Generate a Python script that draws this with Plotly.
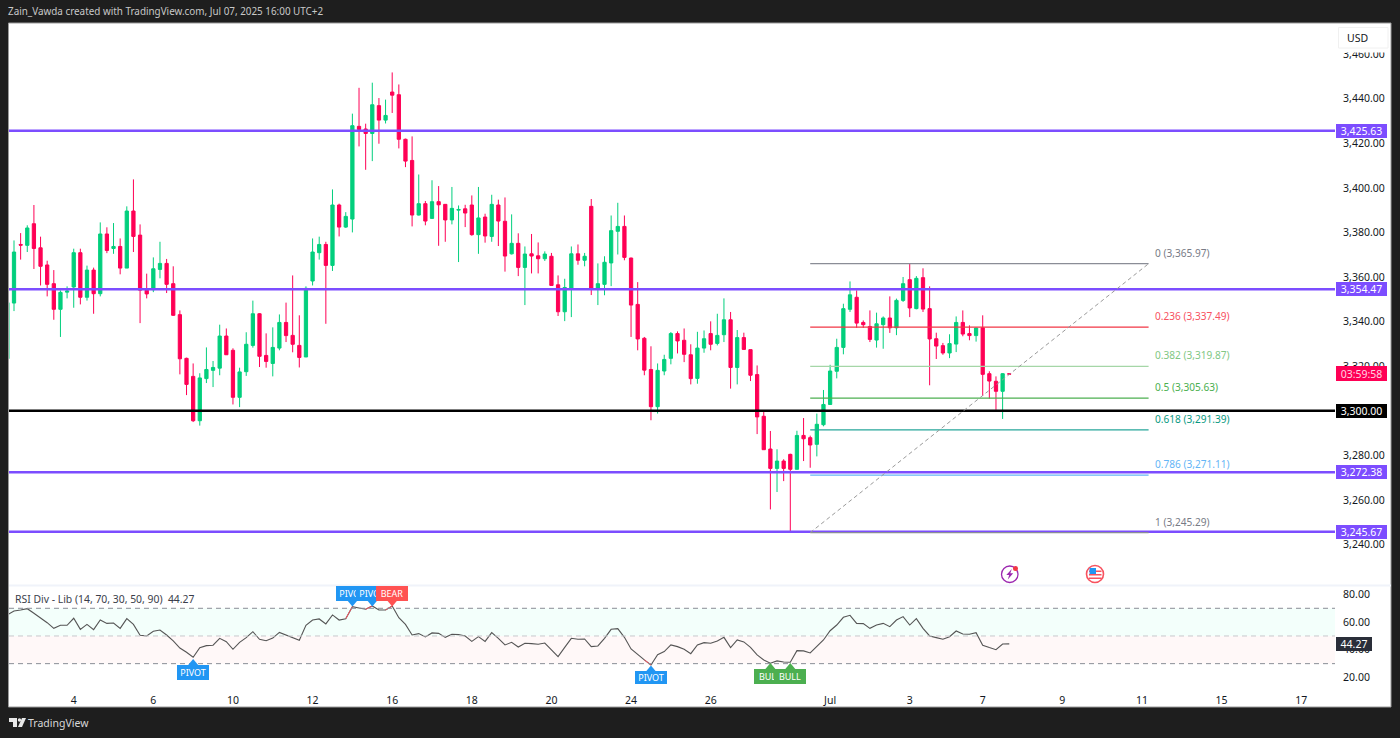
import plotly.graph_objects as go

opens = [3323.3,3348.3,3374.6,3374.2,3383.9,3373.1,3365.4,3357.0,3345.5,3353.2,3355.5,3370.9,3350.9,3363.1,3352.5,3379.3,3372.8,3373.7,3364.0,3389.6,
3378.8,3354.1,3354.3,3363.4,3366.1,3357.0,3343.1,3323.5,3315.4,3295.5,3314.4,3318.1,3319.1,3333.5,3327.1,3306.0,3317.5,3329.3,3343.5,3324.8,
3321.2,3328.1,3339.6,3333.8,3329.3,3324.1,3358.2,3370.9,3374.6,3365.2,3392.3,3382.4,3386.0,3427.6,3426.4,3424.4,3436.9,3430.4,3443.0,3441.8,
3421.8,3412.3,3387.8,3392.9,3386.3,3393.8,3392.6,3385.6,3390.0,3390.6,3392.3,3379.0,3386.9,3378.2,3392.3,3385.0,3370.4,3375.1,3364.3,3370.4,
3369.5,3368.2,3369.3,3356.5,3344.4,3355.0,3370.4,3367.5,3391.7,3355.0,3356.7,3366.3,3380.5,3382.7,3368.5,3347.7,3332.5,3318.5,3301.8,3317.8,
3323.5,3334.6,3331.6,3325.1,3314.5,3328.1,3334.6,3330.2,3334.1,3340.8,3319.4,3332.8,3327.4,3316.2,3297.5,3282.8,3274.1,3277.4,3280.4,3273.7,
3288.9,3287.9,3284.9,3293.7,3302.8,3317.7,3328.4,3345.5,3350.9,3339.6,3337.8,3331.7,3338.6,3341.6,3337.2,3349.5,3358.8,3345.8,3359.7,3345.8,
3332.3,3329.2,3325.9,3329.9,3339.6,3334.6,3333.7,3337.2,3316.6,3313.2,3308.7,3316.6]
highs = [3350.3,3376.4,3379.7,3383.2,3392.3,3378.1,3367.3,3363.1,3354.0,3355.8,3372.7,3372.7,3365.1,3364.2,3384.5,3382.3,3384.2,3377.3,3391.7,3403.8,
3383.6,3361.5,3368.8,3375.8,3368.1,3364.8,3345.0,3323.8,3321.2,3316.8,3328.4,3322.3,3338.6,3336.9,3328.0,3319.3,3335.2,3349.4,3343.8,3334.7,
3337.4,3343.2,3348.5,3360.7,3342.8,3355.8,3377.3,3378.1,3375.8,3399.3,3392.9,3389.1,3433.3,3444.9,3428.8,3447.2,3440.3,3439.6,3451.8,3446.4,
3422.1,3423.1,3406.0,3394.1,3403.4,3400.8,3392.7,3400.4,3392.1,3392.4,3396.6,3400.4,3388.4,3396.9,3394.7,3395.7,3388.1,3379.6,3373.7,3379.3,
3375.5,3371.5,3370.8,3360.7,3359.2,3373.7,3374.6,3370.8,3395.0,3366.1,3369.3,3387.6,3393.3,3387.6,3368.7,3357.7,3333.1,3328.9,3321.2,3325.1,
3335.3,3335.6,3336.9,3329.8,3335.4,3336.0,3340.1,3343.5,3350.4,3344.3,3336.2,3335.0,3327.4,3320.3,3299.4,3290.9,3282.7,3278.2,3280.7,3291.0,
3296.7,3288.8,3298.7,3309.3,3320.6,3332.3,3348.0,3358.0,3354.0,3340.5,3345.0,3344.0,3342.3,3351.3,3350.3,3360.0,3366.0,3360.4,3363.9,3355.8,
3335.0,3330.4,3334.3,3342.3,3345.0,3338.3,3337.2,3342.8,3317.7,3315.4,3316.9,3316.6]
lows = [3321.8,3344.7,3367.8,3371.2,3363.6,3356.2,3351.3,3340.8,3333.1,3350.4,3346.2,3347.7,3349.4,3343.5,3351.3,3370.7,3370.4,3361.2,3364.0,3371.2,
3339.3,3350.4,3353.2,3359.4,3352.8,3342.5,3316.3,3307.0,3294.9,3293.3,3312.4,3310.6,3315.9,3325.0,3302.8,3301.6,3315.6,3328.3,3319.6,3319.3,
3315.4,3327.1,3330.8,3326.2,3319.4,3324.1,3356.2,3367.8,3339.0,3362.7,3378.2,3382.0,3380.0,3418.6,3408.1,3412.0,3419.8,3428.9,3433.6,3417.7,
3409.3,3382.7,3387.6,3383.2,3386.2,3374.0,3375.8,3383.6,3366.7,3382.4,3378.5,3370.4,3375.4,3375.8,3373.9,3362.4,3370.1,3360.4,3347.4,3361.6,
3361.6,3367.2,3356.2,3342.5,3340.2,3342.0,3365.5,3364.8,3351.9,3347.4,3351.8,3355.9,3370.1,3367.5,3333.1,3327.1,3315.9,3295.7,3298.7,3315.9,
3320.8,3325.7,3321.8,3311.8,3312.1,3326.0,3327.1,3329.3,3330.8,3309.9,3311.8,3327.4,3313.3,3289.5,3282.5,3255.7,3263.5,3268.4,3245.3,3273.7,
3277.4,3274.4,3279.5,3293.0,3302.7,3314.5,3325.3,3344.3,3337.2,3337.2,3330.8,3328.3,3327.8,3334.9,3333.9,3348.8,3342.0,3345.5,3344.3,3311.4,
3323.2,3325.1,3323.6,3326.3,3333.4,3331.6,3331.0,3306.6,3305.4,3300.4,3296.3,3316.3]
closes = [3348.5,3371.2,3374.3,3382.0,3372.8,3364.8,3356.7,3345.5,3353.1,3353.7,3370.9,3350.9,3363.1,3352.5,3379.3,3371.9,3373.7,3364.0,3389.6,3378.2,
3354.1,3352.4,3363.7,3366.1,3356.7,3342.8,3323.3,3311.8,3295.5,3314.7,3318.5,3319.4,3333.5,3325.1,3306.0,3317.4,3329.8,3343.5,3324.4,3322.1,
3328.4,3339.6,3333.7,3329.8,3323.9,3354.9,3371.2,3374.6,3365.2,3392.3,3382.4,3387.2,3427.9,3426.2,3424.4,3437.3,3430.4,3432.5,3441.6,3421.8,
3412.0,3387.8,3392.9,3385.1,3393.8,3392.4,3385.6,3390.8,3390.3,3388.7,3379.0,3386.5,3378.4,3392.6,3385.1,3369.4,3375.1,3364.3,3370.3,3369.4,
3368.2,3370.3,3356.2,3344.4,3355.3,3370.4,3367.5,3369.3,3355.0,3357.0,3366.6,3380.8,3382.7,3368.8,3347.4,3332.2,3318.2,3301.8,3318.1,3323.0,
3334.6,3331.3,3325.3,3314.4,3328.1,3332.3,3329.8,3333.8,3340.8,3319.4,3332.8,3327.5,3315.9,3297.2,3282.5,3274.1,3277.4,3274.1,3273.7,3288.9,
3287.4,3284.6,3293.9,3302.8,3317.8,3328.4,3345.8,3352.0,3339.3,3338.6,3332.0,3339.0,3341.6,3337.2,3349.5,3357.0,3346.1,3359.4,3345.6,3332.2,
3329.0,3325.9,3330.1,3339.6,3334.4,3333.7,3337.1,3316.3,3313.3,3308.7,3316.6,3316.4]
rsi = [65.2,68.0,68.8,69.7,66.4,63.2,59.6,55.5,57.7,57.7,62.8,54.8,58.4,54.6,61.5,59.1,59.4,55.5,62.5,58.4,
50.5,50.0,53.4,54.3,50.7,46.4,41.3,38.2,34.6,41.6,43.0,43.3,48.3,45.9,40.4,45.4,48.8,53.1,47.6,46.6,
48.5,52.6,50.7,48.8,46.9,57.7,61.5,62.3,58.7,65.2,61.5,62.5,71.2,70.2,69.3,71.7,68.8,68.8,71.7,63.2,
58.4,50.7,51.7,49.3,52.2,51.9,49.0,51.2,51.0,50.0,46.1,49.5,46.1,52.4,48.3,
43.5,45.4,42.0,44.7,44.5,44.0,44.9,39.9,35.1,41.8,48.3,47.6,47.8,42.3,42.8,48.3,54.8,55.3,49.0,40.6,
36.3,32.7,29.0,36.5,38.7,43.5,42.3,40.4,37.2,43.5,45.2,44.7,46.4,49.0,41.6,47.1,45.7,41.8,36.3,32.7,
30.3,32.0,31.2,31.0,39.4,39.2,37.7,42.3,47.1,53.8,57.9,63.5,64.9,59.1,58.9,55.5,57.9,59.1,56.7,61.5,
64.0,57.9,62.5,55.5,50.0,48.8,47.6,49.5,53.6,51.4,51.2,52.4,43.3,41.6,40.1,44.2,44.27]

date_ticks = [10,22,34,46,58,70,82,94,106,124,136,147,159,171,183,195]
date_labels = ["4","6","10","12","16","18","20","24","26","Jul","3","7","9","11","15","17"]
price_ticks = [3240,3260,3280,3300,3320,3340,3360,3380,3400,3420,3440,3460]
rsi_ticks = [20,40,60,80]

level_values = [3425.63,3354.47,3272.38,3245.67]
level_labels = ["3,425.63","3,354.47","3,272.38","3,245.67"]
key_value = 3300.00
key_label = "3,300.00"

fib_ratios = ["0","0.236","0.382","0.5","0.618","0.786","1"]
fib_values = [3365.97,3337.49,3319.87,3305.63,3291.39,3271.11,3245.29]
fib_colors = ["#787b86","#f7525f","#81c784","#4caf50","#089981","#64b5f6","#787b86"]
fib_line_colors = ["#8a8d96","#f23645","#a5d6a7","#4caf50","#26a69a","#64b5f6","#8a8d96"]
fib_start, fib_end = 121, 172

rsi_marks = [(52,"PIVOT","#2196f3","down"),(55,"PIVOT","#2196f3","down"),(58,"BEAR","#ff5252","down"),
             (28,"PIVOT","#2196f3","up"),(97,"PIVOT","#2196f3","up"),(115,"BULL","#4caf50","up"),(118,"BULL","#4caf50","up")]
rsi_red_spans = [(51,52),(54,55),(57,58),(96,97)]

W, H = 1400, 738
XL, XR = 9, 1335
MT, MB = 23, 585
RT, RB = 586, 684
X0 = 7.37; DX = 6.635
def px(x): return x / W
def py(y): return 1 - y / H
purple = "#7c4dff"; green = "#02cf7d"; red = "#ff0055"
FONT = "Noto Sans"

x_idx = list(range(len(opens)))
fig = go.Figure()
fig.add_trace(go.Candlestick(x=x_idx, open=opens, high=highs, low=lows, close=closes,
    increasing=dict(line=dict(color=green, width=1), fillcolor=green),
    decreasing=dict(line=dict(color=red, width=1), fillcolor=red),
    whiskerwidth=0, xaxis="x", yaxis="y", showlegend=False, hoverinfo="skip"))
fig.add_trace(go.Scatter(x=list(range(len(rsi))), y=rsi, mode="lines",
    line=dict(color="#555555", width=1.1), xaxis="x2", yaxis="y2", showlegend=False, hoverinfo="skip"))
for a, b in rsi_red_spans:
    fig.add_trace(go.Scatter(x=[a, b], y=[rsi[a], rsi[b]], mode="lines",
        line=dict(color="#f7525f", width=1), xaxis="x2", yaxis="y2", showlegend=False, hoverinfo="skip"))

shapes = []
ann = []
def paper_rect(x0, y0, x1, y1, fill, line=None, layer="below"):
    shapes.append(dict(type="rect", xref="paper", yref="paper", x0=px(x0), x1=px(x1), y0=py(y0), y1=py(y1),
        fillcolor=fill, line=dict(color=line or fill, width=1 if line else 0), layer=layer))

paper_rect(8.5, 23, 1391, 707, "#ffffff", "#9a9a9a")
paper_rect(XL, 584.5, 1391, 586.5, "#f0f3fa")

# RSI zones
shapes.append(dict(type="rect", xref="paper", yref="y2", x0=px(XL), x1=px(XR), y0=50, y1=70, fillcolor="#f3fffb", line=dict(width=0), layer="below"))
shapes.append(dict(type="rect", xref="paper", yref="y2", x0=px(XL), x1=px(XR), y0=30, y1=50, fillcolor="#fff8f8", line=dict(width=0), layer="below"))
for v, c in [(70, "#8a8d96"), (50, "#c8c8cc"), (30, "#8a8d96")]:
    shapes.append(dict(type="line", xref="paper", yref="y2", x0=px(XL), x1=px(XR), y0=v, y1=v,
        line=dict(color=c, width=1, dash="5px,4px")))

# horizontal levels
for v in level_values:
    shapes.append(dict(type="line", xref="paper", yref="y", x0=px(XL), x1=px(XR), y0=v, y1=v, line=dict(color=purple, width=2.5)))
shapes.append(dict(type="line", xref="paper", yref="y", x0=px(XL), x1=px(XR), y0=key_value, y1=key_value, line=dict(color="#000000", width=2.5)))

# fib
for r, v, c, lc in zip(fib_ratios, fib_values, fib_colors, fib_line_colors):
    shapes.append(dict(type="line", xref="x", yref="y", x0=fib_start, x1=fib_end, y0=v, y1=v, line=dict(color=lc, width=1.2)))
    ann.append(dict(xref="paper", yref="y", x=px(1153), y=v, xanchor="left", yanchor="middle", yshift=11,
        text=f"{r} ({v:,.2f})", showarrow=False, font=dict(family=FONT, size=10.1, color=c)))
shapes.append(dict(type="line", xref="x", yref="y", x0=fib_start, x1=fib_end, y0=fib_values[-1], y1=fib_values[0],
    line=dict(color="#9a9a9a", width=1, dash="4px,3px")))

# price tags
def tag(y, yref, text, bg, w=51, cx=1361.5, color="#ffffff"):
    ann.append(dict(xref="paper", yref=yref, x=px(cx), y=y, xanchor="center", yanchor="middle", text=text,
        showarrow=False, bgcolor=bg, width=w, height=14, borderpad=0, borderwidth=0,
        font=dict(family=FONT, size=10.5, color=color)))
for v, t in zip(level_values, level_labels):
    tag(v, "y", t, purple)
tag(key_value, "y", key_label, "#000000")
ann.append(dict(xref="paper", yref="paper", x=px(1361.5), y=py(373.5), xanchor="center", yanchor="middle", text="03:59:58",
    showarrow=False, bgcolor=red, width=51, height=15, borderpad=0, borderwidth=0, font=dict(family=FONT, size=10.5, color="#ffd6e4")))
tag(rsi[-1], "y2", f"{rsi[-1]:.2f}", "#2a2e39", w=36, cx=1354)

# USD box, plus the white margin below it that hides the top of the highest price label
paper_rect(1340, 48, 1388, 52.5, "#ffffff", layer="above")
paper_rect(1338.5, 27.5, 1388, 48, "#ffffff", "#f0f0f0", layer="above")
ann.append(dict(xref="paper", yref="paper", x=px(1345), y=py(38), xanchor="left", yanchor="middle", text="USD",
    showarrow=False, font=dict(family=FONT, size=10.5, color="#131722")))

# RSI labels
for i, t, c, d in rsi_marks:
    cx = X0 + DX * i
    if d == "down":
        shapes.append(dict(type="path", xref="paper", yref="paper",
            path=f"M {px(cx-5)} {py(600.5)} L {px(cx+5)} {py(600.5)} L {px(cx)} {py(606.5)} Z", fillcolor=c, line=dict(width=0)))
        ann.append(dict(xref="paper", yref="paper", x=px(cx), y=py(593.5), xanchor="center", yanchor="middle", text=t,
            showarrow=False, bgcolor=c, width=32, height=15, borderpad=0, borderwidth=0, font=dict(family=FONT, size=9, color="#ffffff")))
    else:
        ttop = 665 if i == 28 else (671.5 if i == 97 else 669)
        tip = ttop - 6
        shapes.append(dict(type="path", xref="paper", yref="paper",
            path=f"M {px(cx-5)} {py(ttop)} L {px(cx+5)} {py(ttop)} L {px(cx)} {py(tip)} Z", fillcolor=c, line=dict(width=0)))
        bh = 15 if i == 28 else 684 - ttop
        ann.append(dict(xref="paper", yref="paper", x=px(cx), y=py(ttop + bh / 2), xanchor="center", yanchor="middle", text=t,
            showarrow=False, bgcolor=c, width=32, height=bh, borderpad=0, borderwidth=0, font=dict(family=FONT, size=9, color="#ffffff")))

# indicator legend, header and footer text
ann.append(dict(xref="paper", yref="paper", x=px(13), y=py(599), xanchor="left", yanchor="middle", showarrow=False,
    text="RSI Div - Lib (14, 70, 30, 50, 90)  44.27", font=dict(family=FONT, size=10.4, color="#3a3e4a")))
ann.append(dict(xref="paper", yref="paper", x=px(6), y=py(11), xanchor="left", yanchor="middle", showarrow=False,
    text="Zain_Vawda created with TradingView.com, Jul 07, 2025 16:00 UTC+2", font=dict(family=FONT, size=9.9, color="#c8c8c8")))
ann.append(dict(xref="paper", yref="paper", x=px(26), y=py(723), xanchor="left", yanchor="middle", showarrow=False,
    text="TradingView", font=dict(family=FONT, size=10.5, color="#d8d8d8")))

# TradingView mark
def p(points):
    return "M " + " L ".join(f"{px(a)} {py(b)}" for a, b in points) + " Z"
for pts in [[(9,718),(17,718),(17,727),(13,727),(13,722),(9,722)], [(22,718),(26,718),(22,727),(18,727)]]:
    shapes.append(dict(type="path", xref="paper", yref="paper", path=p(pts), fillcolor="#e8e8e8", line=dict(width=0)))
shapes.append(dict(type="circle", xref="paper", yref="paper", x0=px(17.8), x1=px(21.2), y0=py(721.7), y1=py(718.3), fillcolor="#e8e8e8", line=dict(width=0)))

# event icons
shapes.append(dict(type="circle", xref="paper", yref="paper", x0=px(1001.5), x1=px(1018), y0=py(582.5), y1=py(566),
    fillcolor="#ffffff", line=dict(color="#9c27b0", width=1.3)))
shapes.append(dict(type="path", xref="paper", yref="paper", fillcolor="#9c27b0", line=dict(width=0),
    path=p([(1011.8,569),(1006.3,575),(1009.2,575),(1007.8,579.5),(1013.2,573.3),(1010.3,573.3)])))
shapes.append(dict(type="circle", xref="paper", yref="paper", x0=px(1013), x1=px(1018), y0=py(571), y1=py(566), fillcolor="#f23645", line=dict(width=0)))
shapes.append(dict(type="circle", xref="paper", yref="paper", x0=px(1086.5), x1=px(1103.5), y0=py(582.5), y1=py(565.5),
    fillcolor="#ffffff", line=dict(color="#f7525f", width=1.6)))
for a, b in [(570.5, 572), (574, 575.5), (577.5, 579)]:
    paper_rect(1089, b, 1101.5, a, "#f7525f", layer="above")
paper_rect(1089.5, 568, 1096, 574, "#2196f3", layer="above")

fig.update_layout(
    width=W, height=H, autosize=False,
    margin=dict(l=0, r=0, t=0, b=0),
    paper_bgcolor="#1e1e1e", plot_bgcolor="rgba(0,0,0,0)",
    showlegend=False, shapes=shapes, annotations=ann,
    xaxis=dict(domain=[px(XL), px(XR)], range=[(XL - X0) / DX, (XR - X0) / DX], anchor="y",
        showticklabels=False, showgrid=False, zeroline=False, rangeslider=dict(visible=False), ticks=""),
    xaxis2=dict(domain=[px(XL), px(XR)], matches="x", anchor="y2", tickmode="array", tickvals=date_ticks, ticktext=date_labels,
        showgrid=False, zeroline=False, ticks="outside", ticklen=6, tickcolor="rgba(0,0,0,0)",
        tickfont=dict(family=FONT, size=10.5, color="#131722")),
    yaxis=dict(domain=[py(MB), py(MT)], range=[3221.78, 3473.98], side="right", anchor="x", tickmode="array",
        tickvals=price_ticks, tickformat=",.2f", showgrid=False, zeroline=False, ticks="outside", ticklen=5,
        tickcolor="rgba(0,0,0,0)", tickfont=dict(family=FONT, size=10.5, color="#131722")),
    yaxis2=dict(domain=[py(RB), py(RT)], range=[15.3, 86.1], side="right", anchor="x2", tickmode="array",
        tickvals=rsi_ticks, tickformat=".2f", showgrid=False, zeroline=False, ticks="outside", ticklen=5,
        tickcolor="rgba(0,0,0,0)", tickfont=dict(family=FONT, size=10.5, color="#131722")),
)

fig.write_html("out.html", config=dict(displayModeBar=False),
    post_script="document.body.style.margin='0';document.documentElement.style.overflow='hidden';")
